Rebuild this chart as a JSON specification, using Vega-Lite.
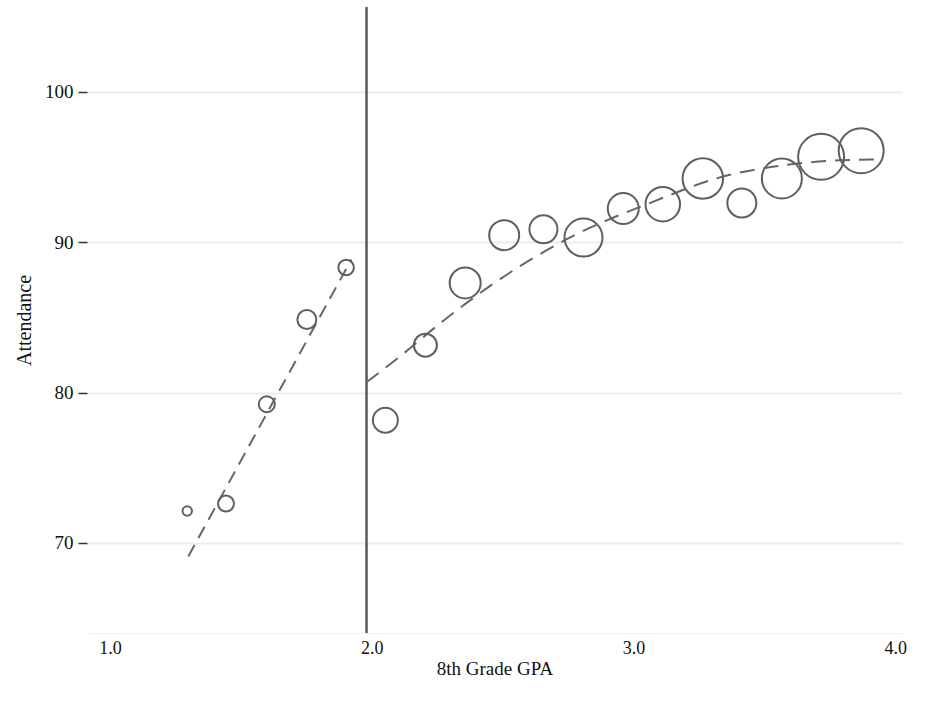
{
  "$schema": "https://vega.github.io/schema/vega-lite/v6.json",
  "autosize": "none",
  "width": 815,
  "height": 626,
  "padding": {"left": 87, "top": 7, "right": 32, "bottom": 68},
  "background": "white",
  "config": {"view": {"stroke": null}, "font": "Liberation Serif"},
  "datasets": {
    "bins": [
      {"gpa": 1.295, "attendance": 72.12, "students": 22},
      {"gpa": 1.443, "attendance": 72.61, "students": 64},
      {"gpa": 1.599, "attendance": 79.22, "students": 64},
      {"gpa": 1.752, "attendance": 84.86, "students": 90},
      {"gpa": 1.902, "attendance": 88.32, "students": 60},
      {"gpa": 2.052, "attendance": 78.16, "students": 156},
      {"gpa": 2.205, "attendance": 83.15, "students": 132},
      {"gpa": 2.357, "attendance": 87.29, "students": 240},
      {"gpa": 2.506, "attendance": 90.47, "students": 225},
      {"gpa": 2.656, "attendance": 90.86, "students": 196},
      {"gpa": 2.809, "attendance": 90.31, "students": 361},
      {"gpa": 2.961, "attendance": 92.24, "students": 240},
      {"gpa": 3.112, "attendance": 92.53, "students": 298},
      {"gpa": 3.265, "attendance": 94.24, "students": 410},
      {"gpa": 3.414, "attendance": 92.61, "students": 210},
      {"gpa": 3.567, "attendance": 94.24, "students": 400},
      {"gpa": 3.717, "attendance": 95.68, "students": 529},
      {"gpa": 3.870, "attendance": 96.09, "students": 506}
    ],
    "fitLeft": [
      {"gpa": 1.299, "attendance": 69.09},
      {"gpa": 1.922, "attendance": 88.85}
    ],
    "fitRight": [
      {"gpa": 1.981, "attendance": 80.7},
      {"gpa": 2.115, "attendance": 82.5},
      {"gpa": 2.261, "attendance": 84.6},
      {"gpa": 2.478, "attendance": 87.4},
      {"gpa": 2.745, "attendance": 90.2},
      {"gpa": 3.076, "attendance": 92.7},
      {"gpa": 3.318, "attendance": 94.25},
      {"gpa": 3.611, "attendance": 95.2},
      {"gpa": 3.789, "attendance": 95.45},
      {"gpa": 3.923, "attendance": 95.5}
    ],
    "cutoff": [{"gpa": 1.98}]
  },
  "encoding": {
    "x": {
      "field": "gpa",
      "type": "quantitative",
      "scale": {"domain": [0.912, 4.026], "nice": false, "zero": false},
      "axis": {
        "values": [1, 2, 3, 4],
        "format": ".1f",
        "ticks": false,
        "grid": false,
        "domain": true,
        "domainColor": "#f0f0f0",
        "domainWidth": 1,
        "labelFont": "Liberation Serif",
        "labelFontSize": 18,
        "labelColor": "#111111",
        "labelPadding": 6,
        "labelFlush": false,
        "labelOverlap": false,
        "title": "8th Grade GPA",
        "titleFont": "Liberation Serif",
        "titleFontSize": 19,
        "titleFontWeight": "normal",
        "titleColor": "#111111",
        "titleY": 35,
        "titleBaseline": "middle"
      }
    },
    "y": {
      "field": "attendance",
      "type": "quantitative",
      "scale": {"domain": [64, 105.65], "nice": false, "zero": false},
      "axis": {
        "values": [70, 80, 90, 100],
        "ticks": true,
        "tickSize": 9,
        "tickColor": "#333333",
        "tickWidth": 1.5,
        "domain": false,
        "grid": true,
        "gridColor": "#e6eff0",
        "gridWidth": 2,
        "labelFont": "Liberation Serif",
        "labelFontSize": 19,
        "labelColor": "#111111",
        "labelPadding": 5,
        "title": "Attendance",
        "titleFont": "Liberation Serif",
        "titleFontSize": 20,
        "titleFontWeight": "normal",
        "titleColor": "#111111",
        "titleAngle": -90,
        "titleX": -63,
        "titleY": 313,
        "titleAlign": "center",
        "titleBaseline": "middle"
      }
    }
  },
  "layer": [
    {
      "data": {"name": "cutoff"},
      "mark": {"type": "rule", "color": "#5a5a5a", "strokeWidth": 2.5},
      "encoding": {"y": null}
    },
    {
      "data": {"name": "fitLeft"},
      "mark": {"type": "line", "color": "#666666", "strokeWidth": 2, "strokeDash": [13, 8]}
    },
    {
      "data": {"name": "fitRight"},
      "mark": {"type": "line", "color": "#666666", "strokeWidth": 2, "strokeDash": [15, 9], "interpolate": "monotone"}
    },
    {
      "data": {"name": "bins"},
      "mark": {"type": "point", "shape": "circle", "filled": false, "stroke": "#5f5f5f", "strokeWidth": 2, "opacity": 1},
      "encoding": {
        "size": {
          "field": "students",
          "type": "quantitative",
          "scale": {"type": "linear", "domain": [0, 500], "range": [0, 2000]},
          "legend": null
        }
      }
    }
  ]
}
